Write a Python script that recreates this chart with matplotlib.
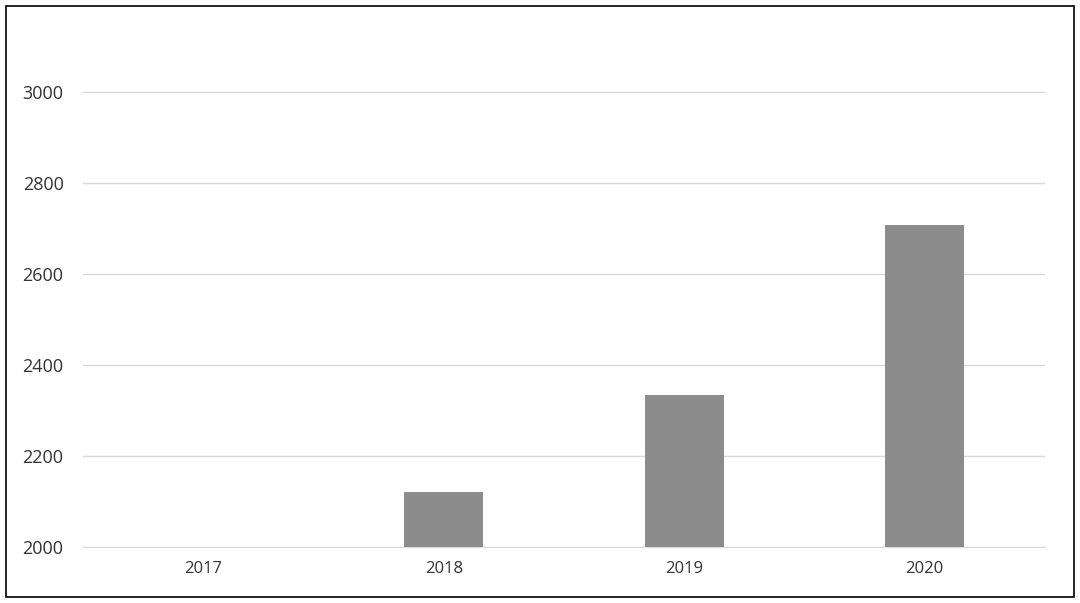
import matplotlib
matplotlib.use("Agg")
import matplotlib.pyplot as plt
from matplotlib.patches import Rectangle

years = ["2017", "2018", "2019", "2020"]
values = [2000, 2121, 2335, 2708]

plt.rcParams['font.family'] = ['Open Sans', 'DejaVu Sans']
fig = plt.figure(figsize=(10.8, 6.03), dpi=100)
ax = fig.add_axes([83/1080, 1-547/603, (1045-83)/1080, (547-40)/603])
x = range(len(years))
ax.bar(x, [v - 2000 for v in values], bottom=2000, width=0.33, color="#8c8c8c", zorder=3)
ax.set_xlim(-0.5, 3.5)
ax.set_ylim(2000, 3115)
ax.set_yticks([2000, 2200, 2400, 2600, 2800, 3000])
ax.set_xticks(list(x))
ax.set_xticklabels(years)
ax.grid(axis='y', color='#d9d9d9', linewidth=1, zorder=0)
for s in ['left', 'right', 'top']:
    ax.spines[s].set_visible(False)
ax.spines['bottom'].set_color('#d9d9d9')
ax.tick_params(axis='both', length=0, labelsize=12, colors='#333333')
ax.tick_params(axis='y', labelsize=13, pad=14)
ax.tick_params(axis='x', pad=10)
fig.patches.append(Rectangle((6/1080, 6/603), 1068/1080, 591/603, transform=fig.transFigure,
                             fill=False, edgecolor='black', linewidth=1.2))
fig.savefig("out.png", dpi=100)
